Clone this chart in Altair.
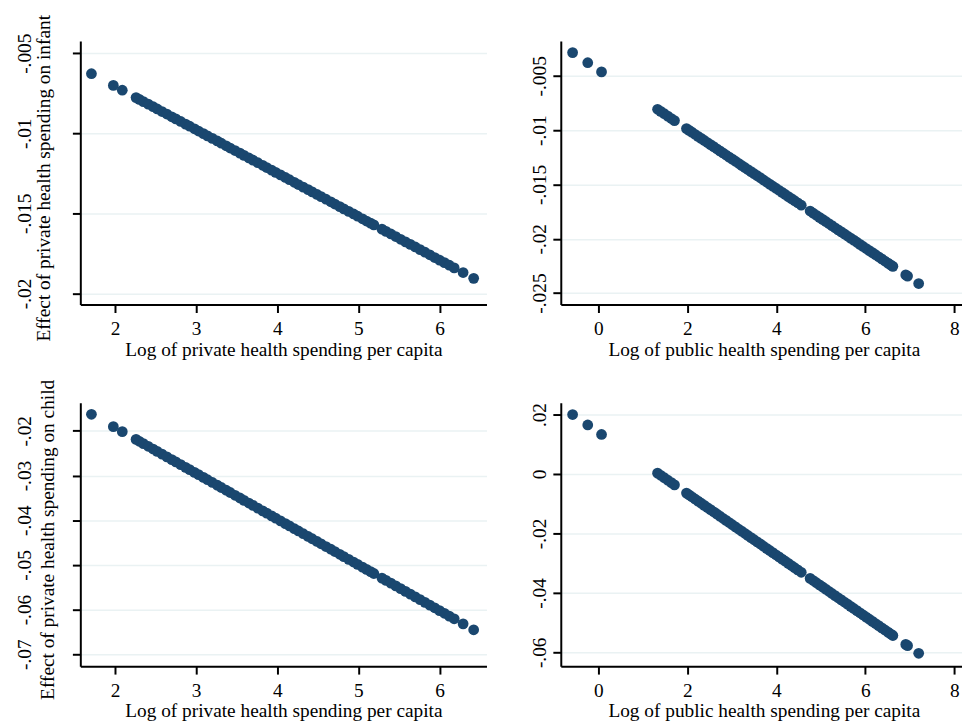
import altair as alt
import pandas as pd

# ---- data ----
priv_x = [1.71, 1.98, 2.09, 2.26, 2.30, 2.35, 2.41, 2.47, 2.52, 2.58, 2.64, 2.70, 2.75, 2.81,
          2.87, 2.92, 2.98, 3.03, 3.09, 3.14, 3.20, 3.26, 3.31, 3.37, 3.42, 3.48, 3.54, 3.59,
          3.65, 3.70, 3.76, 3.82, 3.87, 3.93, 3.98, 4.04, 4.10, 4.15, 4.21, 4.26, 4.32, 4.38,
          4.43, 4.49, 4.54, 4.60, 4.66, 4.71, 4.77, 4.82, 4.88, 4.94, 4.99, 5.05, 5.10, 5.15,
          5.19, 5.29, 5.34, 5.40, 5.46, 5.52, 5.58, 5.64, 5.70, 5.76, 5.82, 5.88, 5.94, 6.00,
          6.06, 6.12, 6.18, 6.29, 6.42]

infant_priv_y = [-0.00628, -0.00701, -0.00731, -0.00777, -0.00788, -0.00802, -0.00818, -0.00834,
                 -0.00848, -0.00864, -0.00880, -0.00897, -0.00910, -0.00926, -0.00943, -0.00956,
                 -0.00972, -0.00986, -0.01002, -0.01016, -0.01032, -0.01048, -0.01062, -0.01078,
                 -0.01092, -0.01108, -0.01124, -0.01138, -0.01154, -0.01168, -0.01184, -0.01200,
                 -0.01214, -0.01230, -0.01244, -0.01260, -0.01276, -0.01290, -0.01306, -0.01320,
                 -0.01336, -0.01352, -0.01366, -0.01382, -0.01396, -0.01412, -0.01428, -0.01442,
                 -0.01458, -0.01472, -0.01488, -0.01504, -0.01518, -0.01534, -0.01548, -0.01561,
                 -0.01572, -0.01599, -0.01613, -0.01629, -0.01645, -0.01662, -0.01678, -0.01694,
                 -0.01710, -0.01727, -0.01743, -0.01759, -0.01776, -0.01792, -0.01808, -0.01824,
                 -0.01841, -0.01870, -0.01906]

child_priv_y = [-0.01629, -0.01906, -0.02018, -0.02192, -0.02233, -0.02285, -0.02346, -0.02407,
                -0.02459, -0.02520, -0.02582, -0.02643, -0.02694, -0.02756, -0.02817, -0.02868,
                -0.02930, -0.02981, -0.03042, -0.03094, -0.03155, -0.03216, -0.03268, -0.03329,
                -0.03380, -0.03442, -0.03503, -0.03555, -0.03616, -0.03667, -0.03729, -0.03790,
                -0.03841, -0.03903, -0.03954, -0.04015, -0.04077, -0.04128, -0.04190, -0.04241,
                -0.04302, -0.04364, -0.04415, -0.04476, -0.04528, -0.04589, -0.04650, -0.04702,
                -0.04763, -0.04814, -0.04876, -0.04937, -0.04988, -0.05050, -0.05101, -0.05152,
                -0.05193, -0.05296, -0.05347, -0.05408, -0.05470, -0.05531, -0.05593, -0.05654,
                -0.05716, -0.05777, -0.05838, -0.05900, -0.05961, -0.06023, -0.06084, -0.06146,
                -0.06207, -0.06320, -0.06453]

pub_x = [-0.58, -0.24, 0.07, 1.33, 1.40, 1.48, 1.56, 1.64, 1.71, 1.98, 2.04, 2.10, 2.17, 2.24,
         2.31, 2.38, 2.45, 2.52, 2.59, 2.66, 2.73, 2.80, 2.87, 2.94, 3.01, 3.08, 3.15, 3.22,
         3.29, 3.36, 3.43, 3.50, 3.57, 3.64, 3.71, 3.78, 3.85, 3.92, 3.99, 4.06, 4.13, 4.20,
         4.27, 4.34, 4.41, 4.48, 4.56, 4.76, 4.83, 4.90, 4.97, 5.04, 5.11, 5.18, 5.25, 5.32,
         5.39, 5.46, 5.53, 5.60, 5.67, 5.74, 5.81, 5.88, 5.95, 6.02, 6.09, 6.16, 6.23, 6.30,
         6.37, 6.44, 6.51, 6.57, 6.62, 6.91, 6.95, 7.20]

infant_pub_y = [-0.00286, -0.00379, -0.00464, -0.00808, -0.00827, -0.00849, -0.00871, -0.00893,
                -0.00912, -0.00986, -0.01002, -0.01018, -0.01038, -0.01057, -0.01076, -0.01095,
                -0.01114, -0.01133, -0.01152, -0.01172, -0.01191, -0.01210, -0.01229, -0.01248,
                -0.01267, -0.01286, -0.01305, -0.01325, -0.01344, -0.01363, -0.01382, -0.01401,
                -0.01420, -0.01439, -0.01459, -0.01478, -0.01497, -0.01516, -0.01535, -0.01554,
                -0.01573, -0.01592, -0.01612, -0.01631, -0.01650, -0.01669, -0.01691, -0.01745,
                -0.01765, -0.01784, -0.01803, -0.01822, -0.01841, -0.01860, -0.01879, -0.01899,
                -0.01918, -0.01937, -0.01956, -0.01975, -0.01994, -0.02013, -0.02032, -0.02052,
                -0.02071, -0.02090, -0.02109, -0.02128, -0.02147, -0.02166, -0.02185, -0.02205,
                -0.02224, -0.02240, -0.02254, -0.02333, -0.02344, -0.02412]

child_pub_y = [0.02000, 0.01649, 0.01329, 0.00028, -0.00045, -0.00127, -0.00210, -0.00292,
               -0.00365, -0.00643, -0.00705, -0.00767, -0.00840, -0.00912, -0.00984, -0.01057,
               -0.01129, -0.01201, -0.01273, -0.01346, -0.01418, -0.01490, -0.01563, -0.01635,
               -0.01707, -0.01779, -0.01852, -0.01924, -0.01996, -0.02068, -0.02141, -0.02213,
               -0.02285, -0.02358, -0.02430, -0.02502, -0.02574, -0.02647, -0.02719, -0.02791,
               -0.02864, -0.02936, -0.03008, -0.03080, -0.03153, -0.03225, -0.03308, -0.03514,
               -0.03586, -0.03659, -0.03731, -0.03803, -0.03876, -0.03948, -0.04020, -0.04092,
               -0.04165, -0.04237, -0.04309, -0.04381, -0.04454, -0.04526, -0.04598, -0.04671,
               -0.04743, -0.04815, -0.04887, -0.04960, -0.05032, -0.05104, -0.05177, -0.05249,
               -0.05321, -0.05383, -0.05435, -0.05734, -0.05776, -0.06034]

priv_xticks = [2, 3, 4, 5, 6]
pub_xticks = [0, 2, 4, 6, 8]
infant_priv_yticks = [-0.02, -0.015, -0.01, -0.005]
infant_pub_yticks = [-0.025, -0.02, -0.015, -0.01, -0.005]
child_priv_yticks = [-0.07, -0.06, -0.05, -0.04, -0.03, -0.02]
child_pub_yticks = [-0.06, -0.04, -0.02, 0, 0.02]

xtitle_priv = "Log of private health spending per capita"
xtitle_pub = "Log of public health spending per capita"
ytitle_infant = "Effect of private health spending on infant"
ytitle_child = "Effect of private health spending on child"

NAVY = "#1a476f"
FONT = "Liberation Serif"
FS = 19.5
LABEL_EXPR = "(datum.value < 0 ? '-' : '') + replace(format(abs(datum.value), '.3~f'), '0.', '.')"


def panel(xs, ys, xdom, ydom, xticks, yticks, xtitle, ytitle, w, h, left, title_x=-31.5):
    df = pd.DataFrame({"x": xs, "y": ys})
    xaxis = alt.Axis(values=xticks, format="d", grid=False, tickSize=8, labelPadding=7.5,
                     labelFlush=False, title=xtitle, titleX=205, titleY=36,
                     titleAlign="center", titleBaseline="top")
    if left:
        yaxis = alt.Axis(values=yticks, labelExpr=LABEL_EXPR, labelAngle=270,
                         labelAlign="center", labelBaseline="bottom", labelPadding=38.5,
                         labelFlush=False, tickSize=8, grid=True, title=ytitle,
                         titleAngle=270, titleX=title_x, titleY=138, titleAlign="center",
                         titleBaseline="alphabetic")
        ytitle_val = ytitle
    else:
        yaxis = alt.Axis(values=yticks, labelExpr=LABEL_EXPR, labelAngle=270,
                         labelAlign="center", labelBaseline="bottom", labelPadding=3,
                         labelFlush=False, tickSize=8, grid=True)
        ytitle_val = None
    return alt.Chart(df).mark_circle(size=118, opacity=1, color=NAVY).encode(
        x=alt.X("x:Q", scale=alt.Scale(domain=xdom, nice=False, zero=False), axis=xaxis),
        y=alt.Y("y:Q", scale=alt.Scale(domain=ydom, nice=False, zero=False), axis=yaxis,
                title=ytitle_val),
    ).properties(width=w, height=h)


tl = panel(priv_x, infant_priv_y, [1.573, 6.578], [-0.0207, -0.00424], priv_xticks,
           infant_priv_yticks, xtitle_priv, ytitle_infant, 410, 266, True, -31.5)
tr = panel(pub_x, infant_pub_y, [-0.846, 8.174], [-0.02606, -0.0018], pub_xticks,
           infant_pub_yticks, xtitle_pub, None, 405, 266, False)
bl = panel(priv_x, child_priv_y, [1.573, 6.578], [-0.07267, -0.01369], priv_xticks,
           child_priv_yticks, xtitle_priv, ytitle_child, 410, 266, True, -27)
br = panel(pub_x, child_pub_y, [-0.846, 8.174], [-0.06467, 0.024], pub_xticks,
           child_pub_yticks, xtitle_pub, None, 405, 266, False)

chart = alt.concat(tl, tr, bl, br, columns=2, spacing={"row": 99, "column": 75},
                   bounds="flush").properties(
    padding={"left": 6, "top": 3, "right": 0, "bottom": 0},
    background="white",
).configure_view(strokeWidth=0).configure_axis(
    domainColor="black", domainWidth=2, tickColor="black", tickWidth=2,
    labelFont=FONT, labelFontSize=FS, labelColor="black",
    titleFont=FONT, titleFontSize=FS, titleColor="black", titleFontWeight="normal",
    gridColor="#eaf2f3", gridWidth=1.5,
)

chart.save("out.html", embed_options={"renderer": "svg", "actions": False})
